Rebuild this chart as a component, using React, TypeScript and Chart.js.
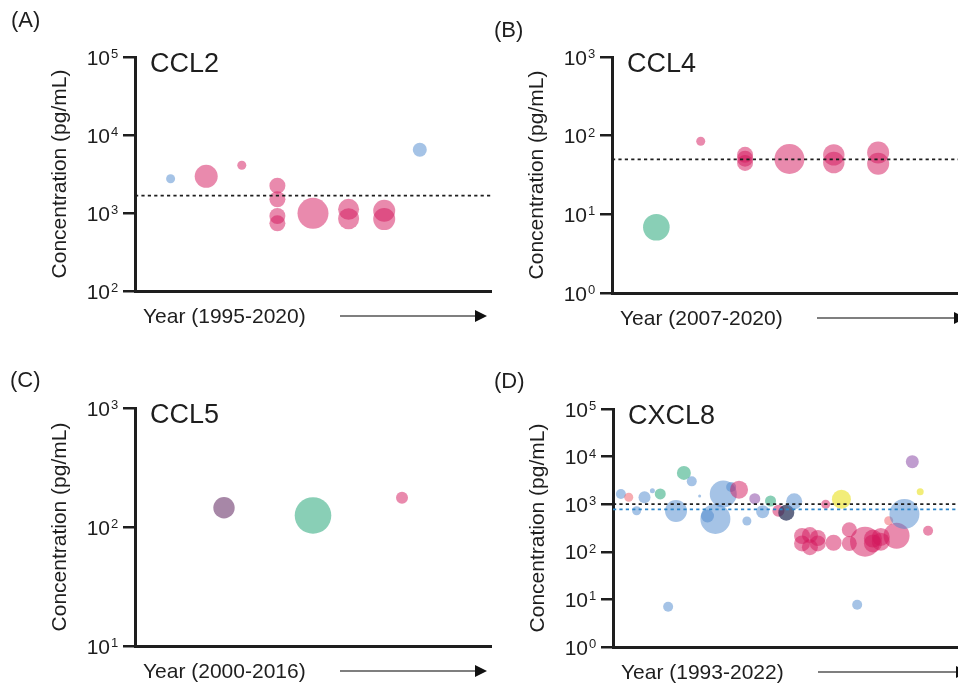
import React, { useEffect, useRef } from "react";
import { Chart, registerables } from "chart.js";

Chart.register(...registerables);

const FONT = '"Liberation Sans", Arial, Helvetica, sans-serif';
const INK = "#1e1e1e";
const W = 958;
const H = 685;

// ---------- Panel A: CCL2 (1995-2020) ----------
const ccl2Study = [1, 2, 3, 4, 4, 4, 4, 5, 6, 6, 7, 7, 8];
const ccl2Conc = [2750, 2950, 4100, 2240, 1500, 916, 738, 990, 1115, 845, 1070, 835, 6470];
const ccl2Size = [4.5, 11.5, 4.5, 8, 8, 8, 8, 15.5, 10.5, 10.5, 11, 11, 7];
const ccl2Group = ["B", "P", "P", "P", "P", "P", "P", "P", "P", "P", "P", "P", "B"];
const ccl2Ref = [1670];

// ---------- Panel B: CCL4 (2007-2020) ----------
const ccl4Study = [1, 2, 3, 3, 3, 4, 5, 5, 6, 6];
const ccl4Conc = [6.85, 85, 57, 51, 45, 50.5, 57, 45.5, 61, 44];
const ccl4Size = [13.3, 4.5, 8, 8, 8, 15, 10.7, 10.7, 11, 11];
const ccl4Group = ["G", "P", "P", "P", "P", "P", "P", "P", "P", "P"];
const ccl4Ref = [50];

// ---------- Panel C: CCL5 (2000-2016) ----------
const ccl5Study = [1, 2, 3];
const ccl5Conc = [145, 125, 176];
const ccl5Size = [10.7, 18.3, 6];
const ccl5Group = ["U", "G", "P"];
const ccl5Ref: number[] = [];

// ---------- Panel D: CXCL8 (1993-2022) ----------
const cxcl8Study = [
  1, 2, 3, 4, 5, 6, 7, 8, 9, 10, 11, 12, 13, 14, 15, 16, 17, 18, 19, 20, 21, 22, 23,
  24, 24, 25, 25, 26, 26, 27, 28, 29, 30, 30, 31, 32, 33, 33, 34, 34, 35, 36, 37, 38, 39, 40,
];
const cxcl8Conc = [
  1640, 1400, 730, 1400, 1920, 1640, 7.0, 720, 4550, 3020, 1490, 565, 490, 1640, 2300, 2020,
  444, 1306, 697, 1167, 731, 664, 1150,
  215, 150, 225, 125, 195, 150, 995, 155, 1268, 290, 150, 7.7, 163, 190, 150, 205, 163, 450,
  218, 622, 7810, 1833, 278,
];
const cxcl8Size = [
  5, 4.5, 4.5, 6, 2.5, 5.5, 5, 11, 7, 5, 1.5, 6.5, 15, 13.5, 5, 9, 4.5, 5.5, 6.5, 5.5, 6, 8, 8,
  8, 8, 8, 8, 8, 8, 4.5, 8, 9.5, 7.5, 7.5, 5, 15, 9, 9, 9, 9, 4.5, 13, 15, 6.5, 3.5, 5,
];
const cxcl8Group = [
  "B", "S", "B", "B", "B", "G", "B", "B", "G", "B", "B", "B", "B", "B", "B", "P", "B", "V", "B", "G", "P", "N", "B",
  "P", "P", "P", "P", "P", "P", "P", "P", "Y", "P", "P", "B", "P", "P", "P", "P", "P", "S", "P", "B", "V", "Y", "P",
];
const cxcl8Ref = [1000, 782];

// ---------- styles ----------
const groupColor: Record<string, string> = {
  P: "rgba(212, 22, 92, 0.5)",
  B: "rgba(75, 135, 205, 0.5)",
  G: "rgba(20, 160, 110, 0.5)",
  U: "rgba(80, 15, 80, 0.5)",
  V: "rgba(130, 60, 160, 0.5)",
  Y: "rgba(232, 222, 10, 0.55)",
  S: "rgba(240, 90, 100, 0.5)",
  N: "rgba(30, 40, 80, 0.7)",
};

type Box = { left: number; top: number; bottom: number; right: number };
type Panel = {
  tag: string;
  name: string;
  yearLabel: string;
  study: number[];
  conc: number[];
  size: number[];
  group: string[];
  refs: number[];
  refColors: string[];
  minExp: number;
  maxExp: number;
  xMax: number;
  box: Box;
  tagPos: [number, number];
  arrowTip: number;
};

const panels: Panel[] = [
  {
    tag: "(A)", name: "CCL2", yearLabel: "Year (1995-2020)",
    study: ccl2Study, conc: ccl2Conc, size: ccl2Size, group: ccl2Group,
    refs: ccl2Ref, refColors: [INK],
    minExp: 2, maxExp: 5, xMax: 10,
    box: { left: 135, top: 57, bottom: 291, right: 491 },
    tagPos: [11, 21], arrowTip: 487,
  },
  {
    tag: "(B)", name: "CCL4", yearLabel: "Year (2007-2020)",
    study: ccl4Study, conc: ccl4Conc, size: ccl4Size, group: ccl4Group,
    refs: ccl4Ref, refColors: [INK],
    minExp: 0, maxExp: 3, xMax: 7.8,
    box: { left: 612, top: 57, bottom: 293, right: 958 },
    tagPos: [494, 31], arrowTip: 966,
  },
  {
    tag: "(C)", name: "CCL5", yearLabel: "Year (2000-2016)",
    study: ccl5Study, conc: ccl5Conc, size: ccl5Size, group: ccl5Group,
    refs: ccl5Ref, refColors: [],
    minExp: 1, maxExp: 3, xMax: 4,
    box: { left: 135, top: 408, bottom: 646, right: 491 },
    tagPos: [10, 381], arrowTip: 487,
  },
  {
    tag: "(D)", name: "CXCL8", yearLabel: "Year (1993-2022)",
    study: cxcl8Study, conc: cxcl8Conc, size: cxcl8Size, group: cxcl8Group,
    refs: cxcl8Ref, refColors: [INK, "#2e86c9"],
    minExp: 0, maxExp: 5, xMax: 43.8,
    box: { left: 613, top: 409, bottom: 647, right: 958 },
    tagPos: [494, 382], arrowTip: 968,
  },
];

const TICK_LEN = 12;

const decorPlugin = {
  id: "decor",
  afterDraw(chart: any, _args: any, opts: any) {
    const p: Panel = opts.panel;
    const ctx: CanvasRenderingContext2D = chart.ctx;
    const { left, top, bottom } = chart.chartArea;
    const yScale = chart.scales.y;
    ctx.save();
    ctx.fillStyle = INK;

    // y tick labels 10^n
    for (let e = p.minExp; e <= p.maxExp; e++) {
      const py = yScale.getPixelForValue(Math.pow(10, e));
      ctx.font = `21px ${FONT}`;
      ctx.textAlign = "right";
      ctx.textBaseline = "alphabetic";
      ctx.fillText("10", left - 25, py + 7.5);
      ctx.font = `13px ${FONT}`;
      ctx.textAlign = "left";
      ctx.fillText(String(e), left - 24, py + 1);
    }

    // y axis title
    ctx.save();
    ctx.translate(left - 75, (top + bottom) / 2);
    ctx.rotate(-Math.PI / 2);
    ctx.font = `21px ${FONT}`;
    ctx.textAlign = "center";
    ctx.textBaseline = "middle";
    ctx.fillText("Concentration (pg/mL)", 0, 0);
    ctx.restore();

    // panel tag
    ctx.font = `22px ${FONT}`;
    ctx.textAlign = "left";
    ctx.textBaseline = "middle";
    ctx.fillText(p.tag, p.tagPos[0], p.tagPos[1]);

    // chemokine name
    ctx.font = `27px ${FONT}`;
    ctx.fillText(p.name, left + 15, top + 8);

    // x label + arrow
    const ly = bottom + 25;
    ctx.font = `21px ${FONT}`;
    ctx.fillText(p.yearLabel, left + 8, ly + 1);
    ctx.strokeStyle = "#555";
    ctx.lineWidth = 1.3;
    ctx.beginPath();
    ctx.moveTo(left + 205, ly);
    ctx.lineTo(p.arrowTip - 10, ly);
    ctx.stroke();
    ctx.fillStyle = "#111";
    ctx.beginPath();
    ctx.moveTo(p.arrowTip, ly);
    ctx.lineTo(p.arrowTip - 12, ly - 6);
    ctx.lineTo(p.arrowTip - 12, ly + 6);
    ctx.closePath();
    ctx.fill();
    ctx.restore();
  },
};

function PanelChart({ panel }: { panel: Panel }) {
  const ref = useRef<HTMLCanvasElement | null>(null);
  useEffect(() => {
    if (!ref.current) return;
    const p = panel;
    const exps: number[] = [];
    for (let e = p.minExp; e <= p.maxExp; e++) exps.push(e);

    const bubbleData = p.study.map((s, i) => ({ x: s, y: p.conc[i], r: p.size[i] }));
    const datasets: any[] = [
      {
        type: "bubble",
        data: bubbleData,
        backgroundColor: p.group.map((g) => groupColor[g]),
        borderWidth: 0,
        clip: false,
        order: 2,
      },
      ...p.refs.map((v, i) => ({
        type: "line",
        data: [
          { x: 0, y: v },
          { x: p.xMax, y: v },
        ],
        borderColor: p.refColors[i],
        borderWidth: 1.7,
        borderDash: [3.2, 3.2],
        pointRadius: 0,
        fill: false,
        clip: false,
        order: 1,
      })),
    ];

    const chart = new Chart(ref.current, {
      type: "bubble",
      data: { datasets },
      plugins: [decorPlugin as any],
      options: {
        animation: false,
        responsive: false,
        events: [],
        layout: {
          autoPadding: false,
          padding: {
            left: p.box.left - TICK_LEN,
            top: p.box.top,
            right: W - p.box.right,
            bottom: H - p.box.bottom,
          },
        },
        plugins: {
          legend: { display: false },
          tooltip: { enabled: false },
          decor: { panel: p },
        } as any,
        scales: {
          x: {
            type: "linear",
            min: 0,
            max: p.xMax,
            ticks: { display: false },
            grid: { display: false, drawTicks: false },
            border: { display: true, color: INK, width: 3 },
          },
          y: {
            type: "logarithmic",
            min: Math.pow(10, p.minExp),
            max: Math.pow(10, p.maxExp),
            ticks: { display: false },
            afterBuildTicks: (scale: any) => {
              scale.ticks = exps.map((e) => ({ value: Math.pow(10, e) }));
            },
            grid: {
              display: true,
              drawOnChartArea: false,
              drawTicks: true,
              tickLength: TICK_LEN,
              color: INK,
              lineWidth: 2.5,
            },
            border: { display: true, color: INK, width: 3 },
          },
        },
      } as any,
    });
    return () => chart.destroy();
  }, [panel]);
  return (
    <canvas
      ref={ref}
      width={W}
      height={H}
      style={{ position: "absolute", left: 0, top: 0, width: W, height: H }}
    />
  );
}

export default function App() {
  return (
    <div
      style={{
        position: "absolute",
        left: 0,
        top: 0,
        width: W,
        height: H,
        background: "#fff",
        overflow: "hidden",
      }}
    >
      {panels.map((p) => (
        <PanelChart key={p.tag} panel={p} />
      ))}
    </div>
  );
}
